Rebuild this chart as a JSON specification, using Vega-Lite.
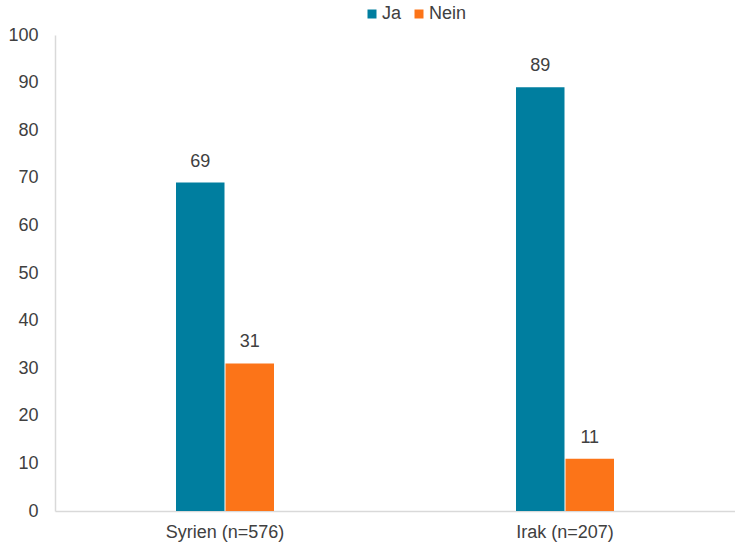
{
  "$schema": "https://vega.github.io/schema/vega-lite/v6.json",
  "width": 680,
  "height": 476,
  "autosize": {"type": "none"},
  "padding": {"left": 55, "top": 35, "right": 0, "bottom": 34},
  "background": "white",
  "config": {
    "view": {"stroke": null},
    "font": "Liberation Sans",
    "text": {"font": "Liberation Sans"}
  },
  "data": {
    "values": [
      {"land": "Syrien (n=576)", "antwort": "Ja", "wert": 69},
      {"land": "Syrien (n=576)", "antwort": "Nein", "wert": 31},
      {"land": "Irak (n=207)", "antwort": "Ja", "wert": 89},
      {"land": "Irak (n=207)", "antwort": "Nein", "wert": 11}
    ]
  },
  "encoding": {
    "x": {
      "field": "land",
      "type": "nominal",
      "sort": ["Syrien (n=576)", "Irak (n=207)"],
      "scale": {"paddingInner": 0, "paddingOuter": 0},
      "axis": {
        "title": null,
        "labelAngle": 0,
        "ticks": false,
        "labelFontSize": 18,
        "labelColor": "#404040",
        "labelPadding": 12,
        "domainColor": "#d9d9d9",
        "domainWidth": 1.5
      }
    },
    "xOffset": {
      "field": "antwort",
      "type": "nominal",
      "sort": ["Ja", "Nein"],
      "scale": {"range": [121, 219], "paddingInner": 0.02, "paddingOuter": 0}
    },
    "y": {
      "field": "wert",
      "type": "quantitative",
      "scale": {"domain": [0, 100]},
      "axis": {
        "title": null,
        "values": [0, 10, 20, 30, 40, 50, 60, 70, 80, 90, 100],
        "grid": false,
        "ticks": false,
        "labelFontSize": 18,
        "labelColor": "#404040",
        "labelPadding": 17,
        "domainColor": "#d9d9d9",
        "domainWidth": 1.5
      }
    }
  },
  "layer": [
    {
      "mark": {"type": "bar"},
      "encoding": {
        "color": {
          "field": "antwort",
          "type": "nominal",
          "sort": ["Ja", "Nein"],
          "scale": {"domain": ["Ja", "Nein"], "range": ["#007E9F", "#FC7418"]},
          "legend": {
            "title": null,
            "orient": "none",
            "direction": "horizontal",
            "legendX": 308,
            "legendY": -30,
            "symbolType": "square",
            "symbolSize": 81,
            "symbolStrokeWidth": 0,
            "labelFontSize": 18,
            "labelColor": "#404040",
            "labelOffset": 1,
            "columnPadding": 8
          }
        }
      }
    },
    {
      "mark": {"type": "text", "baseline": "bottom", "dy": -12, "fontSize": 18, "color": "#404040"},
      "encoding": {"text": {"field": "wert", "type": "quantitative"}}
    }
  ]
}
